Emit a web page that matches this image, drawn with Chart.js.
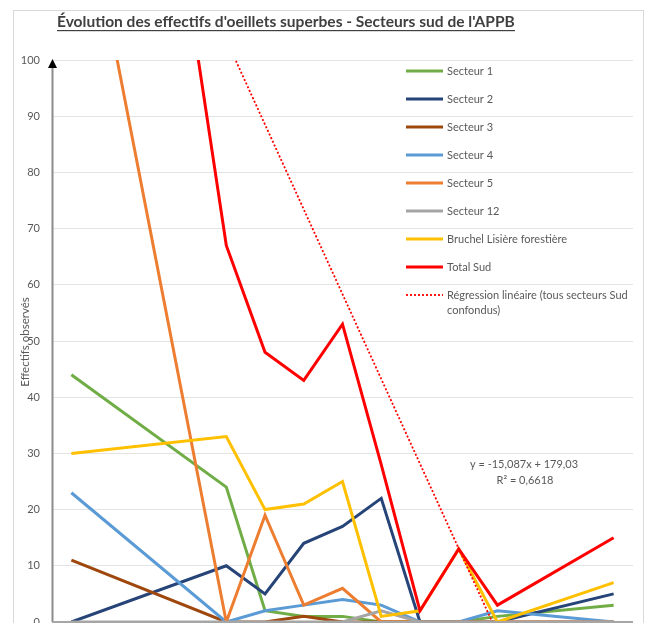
<!DOCTYPE html>
<html lang="fr">
<head>
<meta charset="utf-8">
<title>Évolution des effectifs d'oeillets superbes</title>
<script src="https://cdn.jsdelivr.net/npm/chart.js@4/dist/chart.umd.min.js"></script>
<style>
  html, body { margin: 0; padding: 0; background: #fff; overflow: hidden; }
  #wrap { position: relative; width: 651px; height: 623px; }
  canvas { display: block; }
</style>
</head>
<body>
<div id="wrap"><canvas id="chart" width="651" height="623"></canvas></div>
<script>
// Survey rounds (x values used by the linear trend: 1..15)
const categories = ['1', '2', '3', '4', '5', '6', '7', '8', '9', '10', '11', '12', '13', '14', '15'];

// Observed counts per sector (null = no count that round)
const secteur1  = [44,  null, null, null, 24, 2,  1,  1,  0,  0, 0,  1, null, null, 3];
const secteur2  = [0,   null, null, null, 10, 5,  14, 17, 22, 0, 0,  0, null, null, 5];
const secteur3  = [11,  null, null, null, 0,  0,  1,  0,  0,  0, 0,  0, null, null, 0];
const secteur4  = [23,  null, null, null, 0,  2,  3,  4,  3,  0, 0,  2, null, null, 0];
const secteur5  = [142, null, null, null, 0,  19, 3,  6,  0,  0, 0,  0, null, null, 0];
const secteur12 = [0,   null, null, null, 0,  0,  0,  0,  2,  0, 0,  0, null, null, 0];
const bruchel   = [30,  null, null, null, 33, 20, 21, 25, 1,  2, 13, 0, null, null, 7];
const totalSud  = [250, null, null, null, 67, 48, 43, 53, 28, 2, 13, 3, null, null, 15];

// Linear trend of the south total
const trendSlope = -15.087;
const trendIntercept = 179.03;
const trendR2 = 0.6618;
const trendLine = categories.map((c, i) => trendIntercept + trendSlope * (i + 1));

const yTicks = { min: 0, max: 100, step: 10 };

const seriesDefs = [
  { label: 'Secteur 1', data: secteur1, color: '#70AD47' },
  { label: 'Secteur 2', data: secteur2, color: '#264478' },
  { label: 'Secteur 3', data: secteur3, color: '#9E480E' },
  { label: 'Secteur 4', data: secteur4, color: '#5B9BD5' },
  { label: 'Secteur 5', data: secteur5, color: '#ED7D31' },
  { label: 'Secteur 12', data: secteur12, color: '#A5A5A5' },
  { label: 'Bruchel Lisière forestière', data: bruchel, color: '#FFC000' },
  { label: 'Total Sud', data: totalSud, color: '#FF0000' }
];

const fmt = v => String(v).replace('.', ',');
const TXT = '#595959';
const FONT = 'Lato, "Open Sans", sans-serif';

const datasets = seriesDefs.map((s, i) => ({
  label: s.label,
  data: s.data,
  borderColor: s.color,
  backgroundColor: s.color,
  borderWidth: 3,
  pointRadius: 0,
  tension: 0,
  spanGaps: true,
  order: 20 - i
}));
datasets.push({
  label: 'Régression linéaire (tous secteurs Sud confondus)',
  legendLines: ['Régression linéaire (tous secteurs Sud', 'confondus)'],
  data: trendLine,
  borderColor: '#FF0000',
  backgroundColor: '#FF0000',
  borderWidth: 1.8,
  borderDash: [2, 2],
  pointRadius: 0,
  tension: 0,
  order: 1
});

// Frame, title, axes decorations, legend and trend equation
const decorations = {
  id: 'decorations',
  beforeDraw(chart) {
    const ctx = chart.ctx;
    ctx.save();
    ctx.fillStyle = '#ffffff';
    ctx.fillRect(0, 0, chart.width, chart.height);
    ctx.strokeStyle = '#d9d9d9';
    ctx.lineWidth = 1;
    ctx.strokeRect(13.5, 10.5, 630, 700);

    // title
    const title = "Évolution des effectifs d'oeillets superbes - Secteurs sud de l'APPB";
    ctx.font = 'bold 15px ' + FONT;
    const w15 = ctx.measureText(title).width;
    const size = 15 * 458 / w15;
    ctx.font = 'bold ' + size.toFixed(2) + 'px ' + FONT;
    ctx.fillStyle = '#404040';
    ctx.textBaseline = 'middle';
    ctx.textAlign = 'left';
    ctx.fillText(title, 57, 22);
    ctx.fillRect(57, 30, 458, 1.2);

    // y-axis title
    ctx.translate(25, 342);
    ctx.rotate(-Math.PI / 2);
    ctx.font = '11.5px ' + FONT;
    ctx.fillStyle = TXT;
    ctx.textAlign = 'center';
    ctx.fillText('Effectifs observés', 0, 0);
    ctx.restore();
  },
  afterDatasetsDraw(chart) {
    const ctx = chart.ctx;
    const a = chart.chartArea;
    ctx.save();
    // y axis with arrow
    ctx.strokeStyle = '#8c8c8c';
    ctx.lineWidth = 2;
    ctx.beginPath();
    ctx.moveTo(a.left + 0.5, a.bottom);
    ctx.lineTo(a.left + 0.5, a.top + 6);
    ctx.stroke();
    ctx.fillStyle = '#000000';
    ctx.beginPath();
    ctx.moveTo(a.left + 0.5, a.top - 1);
    ctx.lineTo(a.left - 4, a.top + 8);
    ctx.lineTo(a.left + 5, a.top + 8);
    ctx.closePath();
    ctx.fill();
    // x axis
    ctx.strokeStyle = '#a6a6a6';
    ctx.lineWidth = 2;
    ctx.beginPath();
    ctx.moveTo(a.left, a.bottom);
    ctx.lineTo(a.right, a.bottom);
    ctx.stroke();

    // legend
    ctx.font = '11px ' + FONT;
    ctx.textBaseline = 'middle';
    ctx.textAlign = 'left';
    let y = 71;
    chart.data.datasets.forEach(ds => {
      ctx.strokeStyle = ds.borderColor;
      ctx.lineWidth = ds.borderDash ? 1.8 : 3;
      ctx.setLineDash(ds.borderDash || []);
      ctx.beginPath();
      ctx.moveTo(406, y);
      ctx.lineTo(443, y);
      ctx.stroke();
      ctx.setLineDash([]);
      ctx.fillStyle = TXT;
      const lines = ds.legendLines || [ds.label];
      lines.forEach((t, k) => ctx.fillText(t, 447, y + k * 15));
      y += 28;
    });

    // trend equation
    ctx.textAlign = 'center';
    ctx.fillText('y = ' + fmt(trendSlope) + 'x + ' + fmt(trendIntercept), 524, 464);
    ctx.fillText('R² = ' + fmt(trendR2), 525, 480);
    ctx.restore();
  }
};

new Chart(document.getElementById('chart'), {
  type: 'line',
  data: { labels: categories, datasets },
  options: {
    responsive: false,
    animation: false,
    devicePixelRatio: 1,
    layout: { padding: { left: 12, top: 60, right: 18, bottom: 1 } },
    plugins: { legend: { display: false }, tooltip: { enabled: false }, title: { display: false } },
    scales: {
      x: {
        type: 'category',
        display: false,
        offset: true
      },
      y: {
        min: yTicks.min,
        max: yTicks.max,
        ticks: { stepSize: yTicks.step, color: TXT, font: { family: FONT, size: 11 }, padding: 12 },
        grid: { color: '#e3e3e3', lineWidth: 1, drawTicks: false },
        border: { display: false },
        afterFit(scale) {
          scale.width = 40;
          scale.paddingTop = 0;
          scale.paddingBottom = 0;
        }
      }
    }
  },
  plugins: [decorations]
});
</script>
</body>
</html>
